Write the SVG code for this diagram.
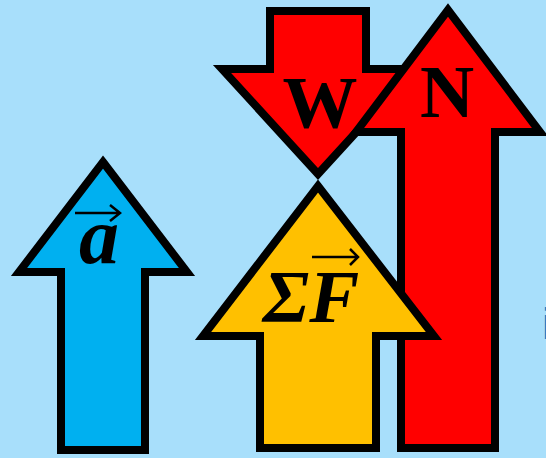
<svg xmlns="http://www.w3.org/2000/svg" width="546" height="458" viewBox="0 0 546 458">
<style>
.arr{stroke:#000;stroke-width:8;stroke-linejoin:miter;stroke-miterlimit:10}
.lbl{font-family:"Liberation Serif","Times New Roman",serif;font-weight:bold;fill:#000}
.vec{fill:none;stroke:#000;stroke-width:2.5;stroke-linecap:butt}
</style>
<rect width="546" height="458" fill="#a8dffb"/>
<g id="accel">
<polygon class="arr" fill="#00b0f0" points="103,162 187,272 145,272 145,450 61,450 61,272 19,272"/>
<text class="lbl" x="99" y="263" font-size="80" font-style="italic" text-anchor="middle">a</text>
<path class="vec" d="M75,213 H120 M110,205 L120,213 L110,221"/>
</g>
<g id="weight">
<polygon class="arr" fill="#ff0000" points="270,11 366,11 366,69 414,69 318,174 222,69 270,69"/>
<text class="lbl" x="320" y="128" font-size="75" text-anchor="middle">W</text>
</g>
<g id="normal">
<polygon class="arr" fill="#ff0000" points="448,10 540,132 495,132 495,448 401,448 401,132 356,132"/>
<text class="lbl" x="447" y="117" font-size="75" text-anchor="middle">N</text>
</g>
<g id="netforce">
<polygon class="arr" fill="#ffc000" points="318,186 434,336 376,336 376,448 260,448 260,336 203,336"/>
<text class="lbl" x="311" y="322" font-size="75" font-style="italic" text-anchor="middle">ΣF</text>
<path class="vec" d="M312,257 H358 M350,249 L358,257 L350,265"/>
</g>
<text x="542" y="339" font-family="Liberation Sans, Arial, sans-serif" font-size="44" fill="#1577c0">i</text>
</svg>
